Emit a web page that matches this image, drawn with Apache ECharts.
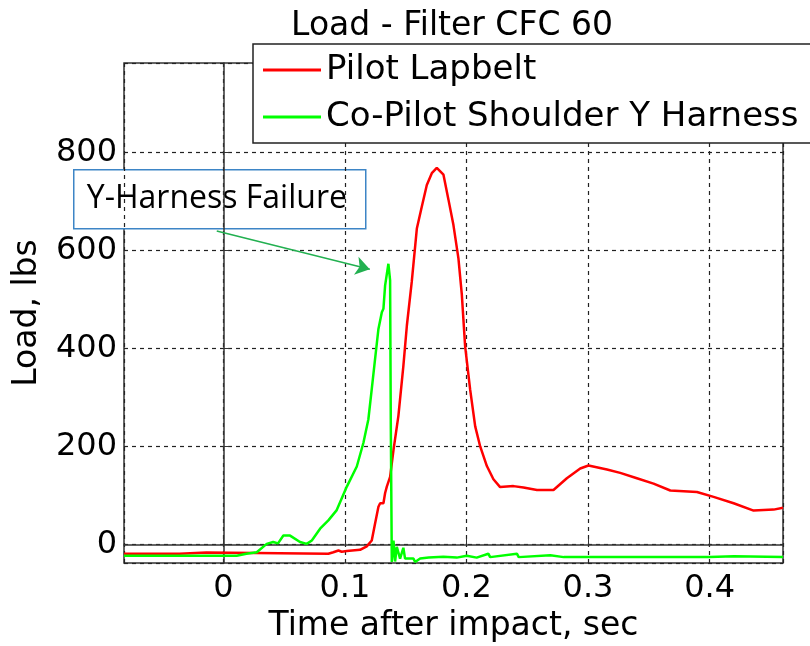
<!DOCTYPE html>
<html>
<head>
<meta charset="utf-8">
<script src="https://cdn.jsdelivr.net/npm/echarts@6/dist/echarts.min.js"></script>
<style>
  html, body { margin: 0; padding: 0; background: #fff; }
  #chart { width: 810px; height: 646px; }
</style>
</head>
<body>
<div id="chart"></div>
<script>
// Pilot Lapbelt (red)
const pilotTime = [-0.0817, -0.036, -0.035, -0.014, -0.013, 0.0864, 0.0905, 0.0947, 0.0974, 0.1016,
  0.1125, 0.118, 0.1221, 0.1248, 0.1276, 0.129, 0.1317, 0.1331, 0.1345, 0.1372,
  0.14, 0.144, 0.1481, 0.151, 0.155, 0.1592, 0.1633, 0.1674, 0.1715, 0.1756,
  0.1811, 0.1852, 0.1893, 0.1934, 0.1962, 0.1989, 0.203, 0.2072, 0.2113, 0.2168,
  0.2222, 0.2277, 0.2387, 0.2469, 0.258, 0.2716, 0.2826, 0.2936, 0.3004, 0.3156,
  0.3265, 0.3402, 0.3539, 0.3677, 0.3896, 0.4033, 0.4198, 0.4362, 0.4527, 0.4604];
const pilotLoad = [-19, -19, -16.5, -16.5, -19, -19, -16, -12.5, -15, -13.7,
  -11, -4, 8, 42, 77, 84, 84, 105, 118, 138,
  193, 262, 364, 447, 536, 645, 690, 734, 758, 769,
  755, 704, 652, 584, 510, 405, 317, 241, 200, 160,
  133, 117, 119, 116, 111, 111, 135, 155, 161, 153,
  146, 135, 124, 110, 107, 97, 84, 69, 71, 75];

// Co-Pilot Shoulder Y Harness (green)
const coPilotTime = [-0.0817, 0.011, 0.019, 0.0275, 0.0357, 0.041, 0.045, 0.0494, 0.0549, 0.0631,
  0.0686, 0.0728, 0.0796, 0.0864, 0.0933, 0.1016, 0.1098, 0.1152, 0.1193, 0.1221,
  0.1248, 0.1276, 0.1304, 0.1317, 0.1331, 0.1358, 0.1372, 0.1378, 0.1386, 0.14,
  0.1413, 0.1427, 0.1454, 0.1481, 0.1495, 0.1564, 0.1578, 0.1619, 0.169, 0.181,
  0.192, 0.2003, 0.2084, 0.218, 0.2195, 0.2415, 0.243, 0.269, 0.28, 0.40,
  0.42, 0.4604];
const coPilotLoad = [-23, -23, -19, -16, 1, 5, 2, 18, 18, 5,
  1, 8, 32, 49, 70, 118, 159, 207, 255, 317,
  378, 440, 474, 481, 529, 573, 539, 234, -36, 8,
  -35, -5, -29, -7, -29, -29, -36, -29, -27, -25,
  -27, -23, -27, -19, -26, -19, -26, -22, -26, -26,
  -24, -26];

// annotation arrow: [time, load] start and end
const arrowStart = [-0.0054, 640];
const arrowEnd = [0.1205, 562];

const seriesNames = ['Pilot Lapbelt', 'Co-Pilot Shoulder Y Harness'];

const toPairs = (xs, ys) => xs.map((x, i) => [x, ys[i]]);

const font = 'DejaVu Sans';
const myChart = echarts.init(document.getElementById('chart'));

const option = {
  backgroundColor: '#fff',
  animation: false,
  title: {
    text: 'Load - Filter CFC 60',
    left: 452,
    top: 10,
    textAlign: 'center',
    padding: 0,
    textStyle: { fontFamily: font, fontSize: 33, fontWeight: 'normal', color: '#000' }
  },
  legend: {
    data: seriesNames,
    orient: 'vertical',
    left: 253,
    top: 44,
    padding: [7, 60, 7, 10],
    itemGap: 9,
    itemWidth: 58,
    itemHeight: 3,
    icon: 'rect',
    borderColor: '#222',
    borderWidth: 1.5,
    backgroundColor: '#fff',
    textStyle: { fontFamily: font, fontSize: 34, color: '#000', lineHeight: 38 }
  },
  grid: {
    left: 124,
    right: 27,
    top: 63,
    bottom: 83,
    outerBoundsMode: 'none',
    show: true,
    borderColor: '#333',
    borderWidth: 1.5,
    backgroundColor: '#fff'
  },
  xAxis: {
    type: 'value',
    min: -0.0817,
    max: 0.4604,
    name: 'Time after impact, sec',
    nameLocation: 'middle',
    nameGap: 44,
    nameTextStyle: { fontFamily: font, fontSize: 33, color: '#000' },
    axisLine: { lineStyle: { color: '#333', width: 1.5 } },
    axisTick: { show: true, inside: true, length: 6, lineStyle: { color: '#333' } },
    axisLabel: {
      fontFamily: font, fontSize: 32, color: '#000', margin: 10,
      showMinLabel: false, showMaxLabel: false
    },
    splitLine: { show: true, lineStyle: { color: '#222', type: [4, 4], width: 1.2 } }
  },
  yAxis: {
    type: 'value',
    min: -38,
    max: 983,
    name: 'Load, lbs',
    nameLocation: 'middle',
    nameGap: 80,
    nameTextStyle: { fontFamily: font, fontSize: 33, color: '#000' },
    axisLine: { show: true, lineStyle: { color: '#333', width: 1.5 } },
    axisTick: { show: true, inside: true, length: 6, lineStyle: { color: '#333' } },
    axisLabel: {
      fontFamily: font, fontSize: 32, color: '#000', margin: 7,
      showMinLabel: false, showMaxLabel: false
    },
    splitLine: { show: true, lineStyle: { color: '#222', type: [4, 4], width: 1.2 } }
  },
  series: [
    {
      name: seriesNames[0],
      type: 'line',
      data: toPairs(pilotTime, pilotLoad),
      showSymbol: false,
      symbol: 'none',
      lineStyle: { color: '#ff0000', width: 2.5 },
      itemStyle: { color: '#ff0000' },
      z: 3
    },
    {
      name: seriesNames[1],
      type: 'line',
      data: toPairs(coPilotTime, coPilotLoad),
      showSymbol: false,
      symbol: 'none',
      lineStyle: { color: '#00ff00', width: 2.5 },
      itemStyle: { color: '#00ff00' },
      z: 4,
      markLine: {
        silent: true,
        symbol: ['none', 'arrow'],
        symbolSize: 14,
        label: { show: false },
        lineStyle: { color: '#22b050', width: 1.5, type: 'solid' },
        data: [[{ coord: arrowStart }, { coord: arrowEnd }]]
      }
    }
  ],
  graphic: [
    {
      type: 'group',
      left: 73,
      top: 169,
      z: 100,
      children: [
        {
          type: 'rect',
          shape: { x: 0, y: 0, width: 292, height: 59 },
          style: { fill: '#fff', stroke: '#3d85c6', lineWidth: 1.5 }
        },
        {
          type: 'text',
          x: 13,
          y: 29.5,
          style: {
            text: 'Y-Harness Failure',
            fontFamily: 'Open Sans',
            fontSize: 32,
            fill: '#000',
            verticalAlign: 'middle'
          }
        }
      ]
    }
  ]
};

myChart.setOption(option);
</script>
</body>
</html>
